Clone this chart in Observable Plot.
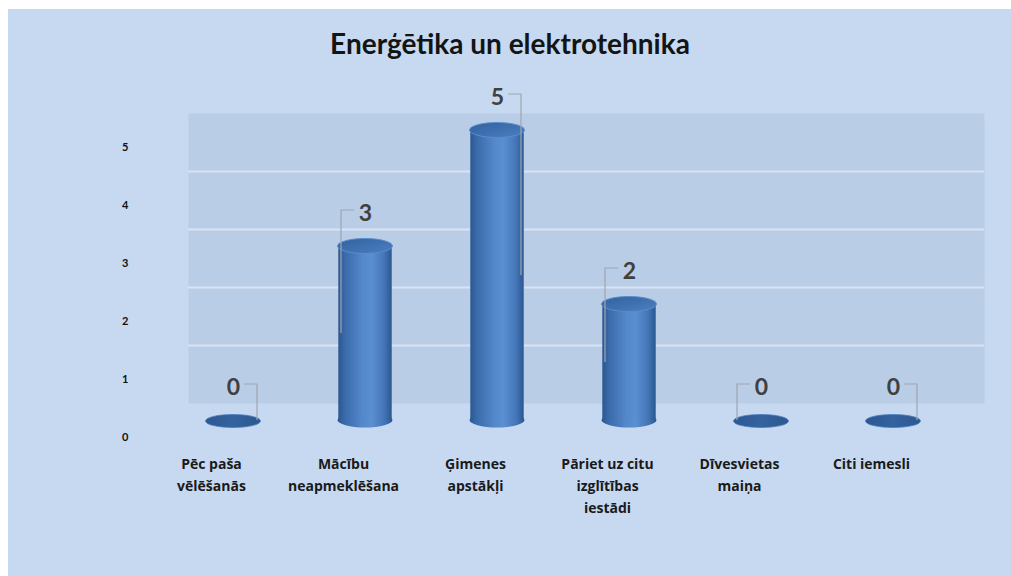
<!DOCTYPE html>
<html><head><meta charset="utf-8">
<script src="https://cdn.jsdelivr.net/npm/d3@7"></script>
<script src="https://cdn.jsdelivr.net/npm/@observablehq/plot@0.6"></script>
<style>
html,body{margin:0;padding:0;background:#fff;width:1011px;height:576px;overflow:hidden}
#panel{position:absolute;left:8px;top:9px;width:1003px;height:567px;background:#c6d9f1;}
#title{position:absolute;left:0;top:26px;width:1020px;text-align:center;font:bold 28px Lato, sans-serif;color:#141414;}
#chart{position:absolute;left:0;top:0;}
</style></head><body>
<div id="panel"></div>
<div id="chart"></div>
<div id="title">Enerģētika un elektrotehnika</div>
<script>
const categories = ["Pēc paša\nvēlēšanās", "Mācību\nneapmeklēšana", "Ģimenes\napstākļi", "Pāriet uz citu\nizglītības\niestādi", "Dīvesvietas\nmaiņa", "Citi iemesli"];
const values = [0, 3, 5, 2, 0, 0];
const yTicks = [0, 1, 2, 3, 4, 5];
const gridTicks = [1, 2, 3, 4];
const leaderSide = [1, -1, 1, -1, -1, 1];

const data = categories.map((c, i) => ({cat: c, value: values[i], side: leaderSide[i]}));

function bandInfo(scales, dimensions) {
  const sx = scales.x;
  let bw = typeof sx.bandwidth === "function" ? sx.bandwidth() : (sx.bandwidth || 0);
  if (!bw) bw = (dimensions.width - dimensions.marginLeft - dimensions.marginRight) / categories.length;
  return {sx, bw};
}

function defsMark() {
  const g = d3.create("svg:g");
  const defs = g.append("defs");
  const body = defs.append("linearGradient").attr("id", "cylBody").attr("x1", 0).attr("x2", 1).attr("y1", 0).attr("y2", 0);
  [[0, "#2c5790"], [0.12, "#3a6aa9"], [0.45, "#5388cb"], [0.62, "#5a8fd2"], [0.85, "#4577b8"], [1, "#2b5791"]]
    .forEach(([o, c]) => body.append("stop").attr("offset", o).attr("stop-color", c));
  const top = defs.append("linearGradient").attr("id", "cylTop").attr("x1", 0).attr("x2", 1).attr("y1", 0).attr("y2", 1);
  [[0, "#32619e"], [0.5, "#3e70b0"], [1, "#4b80c2"]]
    .forEach(([o, c]) => top.append("stop").attr("offset", o).attr("stop-color", c));
  const flat = defs.append("linearGradient").attr("id", "flat").attr("x1", 0).attr("x2", 1).attr("y1", 0).attr("y2", 0);
  [[0, "#2c5790"], [0.5, "#34639f"], [1, "#2c5790"]]
    .forEach(([o, c]) => flat.append("stop").attr("offset", o).attr("stop-color", c));
  return g.node();
}

function bottomEllipses(index, scales, values_, dimensions) {
  const {sx, bw} = bandInfo(scales, dimensions);
  const g = d3.create("svg:g");
  for (const d of data) {
    const cx = sx(d.cat) + bw / 2;
    const y0 = scales.y(0);
    if (d.value > 0) {
      g.append("ellipse").attr("cx", cx).attr("cy", y0).attr("rx", 27.5).attr("ry", 7.5).attr("fill", "url(#cylBody)");
    } else {
      g.append("ellipse").attr("cx", cx).attr("cy", y0 + 1).attr("rx", 27.5).attr("ry", 6.5)
        .attr("fill", "url(#flat)").attr("stroke", "#4a7cbc").attr("stroke-width", 0.8);
    }
  }
  return g.node();
}

function topEllipses(index, scales, values_, dimensions) {
  const {sx, bw} = bandInfo(scales, dimensions);
  const g = d3.create("svg:g");
  for (const d of data) {
    if (d.value <= 0) continue;
    const cx = sx(d.cat) + bw / 2;
    g.append("ellipse").attr("cx", cx).attr("cy", scales.y(d.value)).attr("rx", 27.5).attr("ry", 7.5)
      .attr("fill", "url(#cylTop)").attr("stroke", "#5b8dcc").attr("stroke-width", 1);
  }
  return g.node();
}

function leaders(index, scales, values_, dimensions) {
  const {sx, bw} = bandInfo(scales, dimensions);
  const g = d3.create("svg:g").attr("fill", "none").attr("stroke", "#a0a6ae").attr("stroke-width", 1.2);
  for (const d of data) {
    const cx = sx(d.cat) + bw / 2;
    const ly = scales.y(d.value) - 36;
    const xv = cx + d.side * 24;
    const x0 = cx + d.side * 11;
    const yEnd = scales.y(d.value / 2);
    g.append("path").attr("d", `M${x0},${ly}H${xv}V${yEnd}`);
  }
  return g.node();
}

const chart = Plot.plot({
  width: 1011,
  height: 576,
  marginLeft: 165,
  marginRight: 50,
  marginTop: 130,
  marginBottom: 156,
  style: {background: "transparent", fontFamily: "Lato, sans-serif", overflow: "visible"},
  x: {type: "band", domain: categories, padding: 0, label: null},
  y: {domain: [0, 5], label: null},
  marks: [
    defsMark,
    Plot.frame({fill: "#b9cde6", stroke: null, dx: 23, dy: -17}),
    Plot.gridY(gridTicks, {stroke: "#d9e4f2", strokeOpacity: 1, strokeWidth: 2, dx: 23, dy: -17}),
    Plot.axisY(yTicks, {tickSize: 0, tickPadding: 37, dy: 17, tickFormat: "d", fontSize: 11, fontWeight: "bold", fill: "#111", label: null}),
    Plot.axisX({tickSize: 0, tickPadding: 33, dx: -22, fontSize: 14, fontWeight: "bold", fontFamily: "'Open Sans', sans-serif", lineHeight: 1.57, fill: "#1a1a1a", label: null}),
    bottomEllipses,
    Plot.barY(data, {x: "cat", y: "value", fill: "url(#cylBody)", insetLeft: 39.3, insetRight: 39.3}),
    topEllipses,
    leaders,
    Plot.text(data, {x: "cat", y: "value", text: d => String(d.value), dy: -33, fontSize: 23, fontWeight: "bold", fill: "#404040"})
  ]
});
document.getElementById("chart").appendChild(chart);
</script>
</body></html>
